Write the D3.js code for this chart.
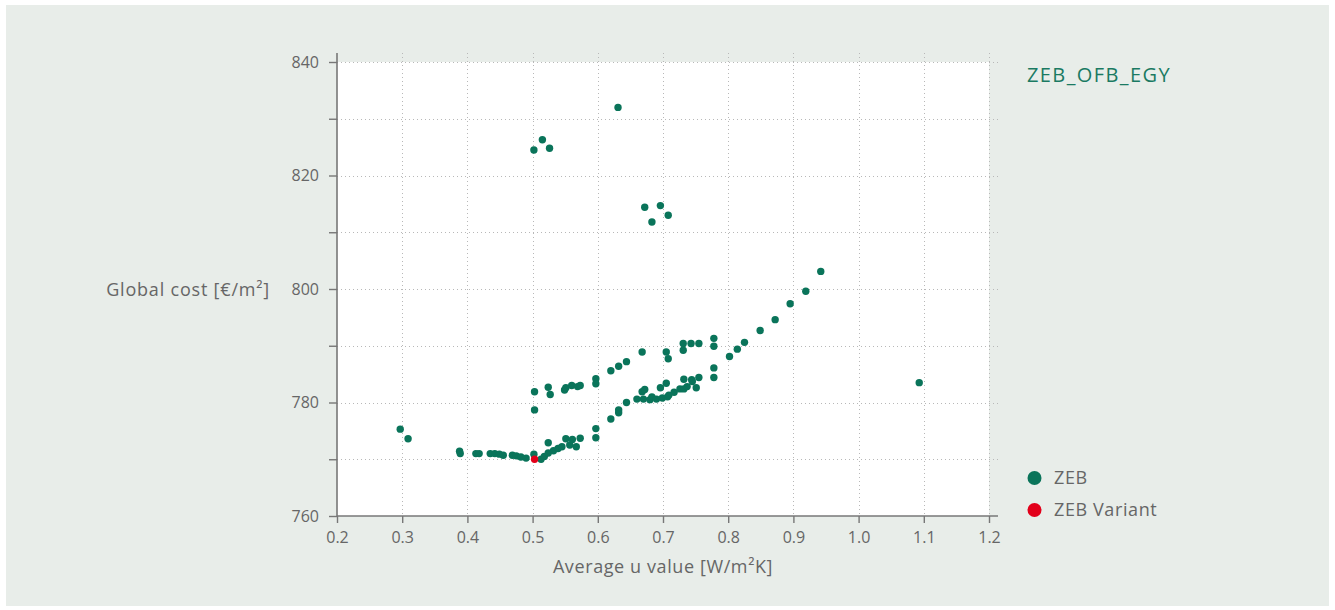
<!DOCTYPE html>
<html><head><meta charset="utf-8">
<script src="https://cdn.jsdelivr.net/npm/d3@7"></script>
<style>
html,body{margin:0;padding:0;background:#fff;}
svg{display:block;}
text{font-family:"Open Sans","Noto Sans",sans-serif;}
</style></head>
<body>
<svg id="c" width="1335" height="610"></svg>
<script>
const title = "ZEB_OFB_EGY";
const xLabel = "Average u value [W/m²K]";
const yLabel = "Global cost [€/m²]";
const seriesNames = ["ZEB", "ZEB Variant"];
const seriesColors = ["#0a745a", "#e2001a"];
const xTicks = [0.2,0.3,0.4,0.5,0.6,0.7,0.8,0.9,1.0,1.1,1.2];
const yTicks = [760,770,780,790,800,810,820,830,840];
const yLabelTicks = [760,780,800,820,840];

const zebU = [0.297,0.309,0.388,0.389,0.413,0.418,0.435,0.442,0.449,0.455,0.469,0.475,0.482,0.490,0.502,0.513,0.518,0.524,0.532,0.539,0.545,0.557,0.567,0.524,0.551,0.561,0.573,0.597,0.597,
  0.503,0.503,0.524,0.527,0.549,0.551,0.560,0.569,0.573,0.597,0.597,0.620,0.632,0.644,0.668,0.705,0.708,0.731,0.731,0.743,0.755,0.778,0.778,
  0.620,0.632,0.632,0.644,0.660,0.670,0.668,0.672,0.680,0.683,0.690,0.696,0.699,0.705,0.707,0.709,0.717,0.726,0.732,0.732,0.737,0.744,0.745,0.751,0.755,0.778,0.778,
  0.802,0.814,0.825,0.849,0.872,0.895,0.919,0.942,
  0.631,0.515,0.502,0.526,0.672,0.696,0.708,0.683,1.093];
const zebCost = [775.3,773.6,771.4,771.0,771.0,771.0,771.0,771.0,770.9,770.7,770.7,770.6,770.4,770.2,770.9,770.0,770.5,771.1,771.5,771.9,772.2,772.5,772.2,772.9,773.6,773.5,773.7,775.4,773.8,
  781.9,778.7,782.7,781.4,782.2,782.6,783.0,782.8,783.0,784.2,783.3,785.6,786.4,787.2,788.9,788.9,787.7,790.4,789.2,790.4,790.4,791.3,789.9,
  777.1,778.2,778.7,780.0,780.6,780.6,781.9,782.3,780.5,781.0,780.6,782.6,780.8,783.4,781.0,781.3,781.8,782.4,784.1,782.4,782.8,784.0,783.7,782.6,784.4,786.1,784.4,
  788.1,789.4,790.6,792.7,794.6,797.4,799.6,803.1,
  832.0,826.3,824.5,824.8,814.4,814.7,813.0,811.8,783.5];
const variantU = [0.503];
const variantCost = [770.0];

const svg = d3.select("#c");
svg.append("rect").attr("x",6).attr("y",5).attr("width",1323).attr("height",601).attr("fill","#e8ede9");

const x = d3.scaleLinear().domain([0.2,1.2]).range([337,989]);
const y = d3.scaleLinear().domain([760,840]).range([516,62]);
const ext = 9;

svg.append("rect").attr("x",x(0.2)).attr("y",y(840)).attr("width",x(1.2)-x(0.2)).attr("height",y(760)-y(840)).attr("fill","#fff");

const grid = svg.append("g").attr("stroke","#b8b8b8").attr("stroke-width",1).attr("stroke-dasharray","1,3");
grid.selectAll("line.v").data(xTicks.slice(1)).join("line")
  .attr("x1",d=>Math.round(x(d))+0.5).attr("x2",d=>Math.round(x(d))+0.5)
  .attr("y1",y(840)-ext).attr("y2",y(760));
grid.selectAll("line.h").data(yTicks.slice(1)).join("line")
  .attr("y1",d=>Math.round(y(d))+0.5).attr("y2",d=>Math.round(y(d))+0.5)
  .attr("x1",x(0.2)).attr("x2",x(1.2)+ext);

const axisColor = "#777";
const textColor = "#666";
const yAxis = svg.append("g").attr("transform",`translate(${x(0.2)},0)`)
  .call(d3.axisLeft(y).tickValues(yTicks).tickSize(8).tickFormat(d=>yLabelTicks.includes(d)?d:""));
yAxis.select(".domain").attr("d",`M0,${y(840)-ext}V${y(760)}`);
const xAxis = svg.append("g").attr("transform",`translate(0,${y(760)})`)
  .call(d3.axisBottom(x).tickValues(xTicks).tickSize(7).tickFormat(d3.format(".1f")));
xAxis.select(".domain").attr("d",`M${x(0.2)},0H${x(1.2)+ext}`);
[xAxis,yAxis].forEach(a=>{
  a.select(".domain").attr("stroke",axisColor).attr("stroke-width",1.6);
  a.selectAll(".tick line").attr("stroke",axisColor).attr("stroke-width",1.4);
  a.selectAll(".tick text").attr("fill",textColor).attr("font-size",16).attr("font-family",'"Open Sans",sans-serif');
});
yAxis.selectAll(".tick text").attr("x",-18);
xAxis.selectAll(".tick text").attr("y",16);

const zeb = zebU.map((u,i)=>({u,c:zebCost[i]}));
const variant = variantU.map((u,i)=>({u,c:variantCost[i]}));
svg.append("g").selectAll("circle").data(zeb).join("circle")
  .attr("cx",d=>x(d.u)).attr("cy",d=>y(d.c)).attr("r",3.7).attr("fill",seriesColors[0]);
svg.append("g").selectAll("circle").data(variant).join("circle")
  .attr("cx",d=>x(d.u)).attr("cy",d=>y(d.c)).attr("r",3.7).attr("fill",seriesColors[1]);

svg.append("text").attr("x",663).attr("y",573).attr("text-anchor","middle").attr("fill",textColor)
  .attr("font-size",18).attr("letter-spacing",0.6).text(xLabel);
svg.append("text").attr("x",270).attr("y",296).attr("text-anchor","end").attr("fill",textColor)
  .attr("font-size",18).attr("letter-spacing",0.8).text(yLabel);

svg.append("text").attr("x",1027).attr("y",82).attr("fill","#1a7a62").attr("font-size",20).attr("letter-spacing",1.4).text(title);

const leg = svg.append("g").selectAll("g").data(seriesNames).join("g")
  .attr("transform",(d,i)=>`translate(1034.5,${478+i*32})`);
leg.append("circle").attr("r",7).attr("fill",(d,i)=>seriesColors[i]);
leg.append("text").attr("x",19.5).attr("y",6).attr("fill",textColor).attr("font-size",18).attr("letter-spacing",0.6).text(d=>d);
</script>
</body></html>
